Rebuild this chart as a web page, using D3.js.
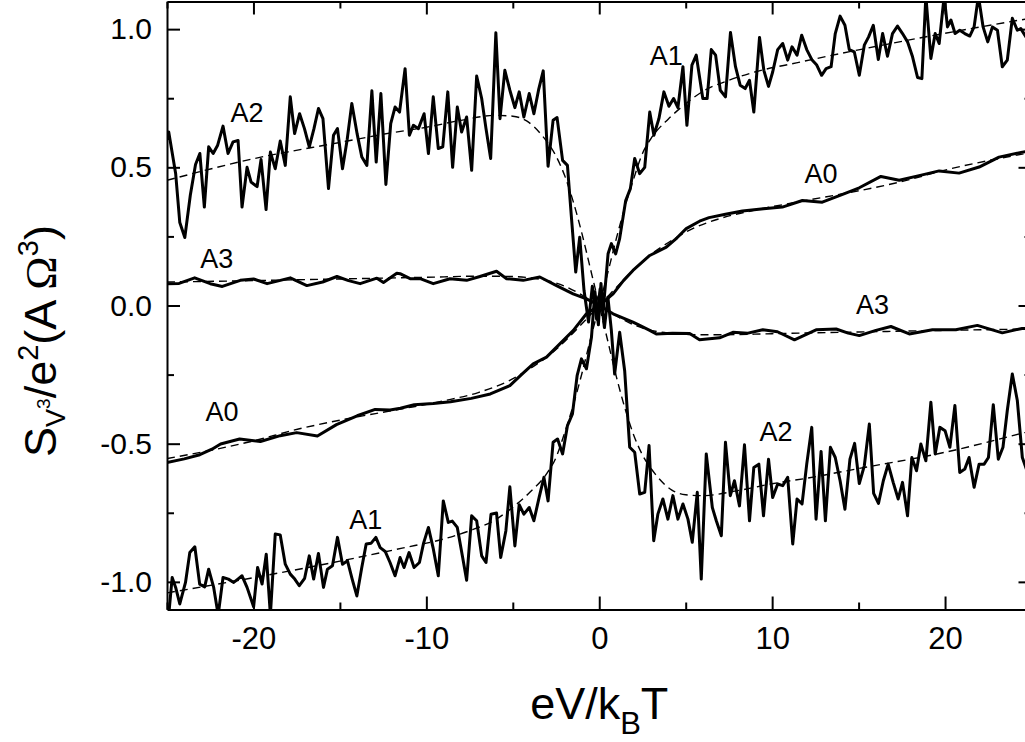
<!DOCTYPE html>
<html><head><meta charset="utf-8">
<script src="https://cdn.jsdelivr.net/npm/d3@7"></script>
<style>body{margin:0;background:#fff}svg{display:block}text{font-family:"Liberation Sans",Arial,sans-serif}</style>
</head><body>
<svg id="c" width="1025" height="742"></svg>
<script>
const xDomain=[-25,25], yDomain=[-1.1,1.1];
const xMajor=[-20,-10,0,10,20], xMinor=[-25,-15,-5,5,15,25];
const yMajor=[-1,-0.5,0,0.5,1], yMinor=[-0.75,-0.25,0.25,0.75];
const xTickLabels=["-20","-10","0","10","20"], yTickLabels=["-1.0","-0.5","0.0","0.5","1.0"];

const a2Data=[[-25,0.60],[-24.9,0.628],[-24.5,0.478],[-24.26,0.30],[-23.97,0.246],[-23.65,0.40],[-23.35,0.51],[-23.1,0.55],[-22.84,0.356],[-22.59,0.574],[-22.33,0.55],[-22.07,0.58],[-21.76,0.649],[-21.47,0.55],[-21.18,0.592],[-20.89,0.597],[-20.66,0.356],[-20.37,0.50],[-20.14,0.447],[-19.79,0.43],[-19.56,0.528],[-19.27,0.347],[-19.02,0.555],[-18.74,0.495],[-18.45,0.595],[-18.16,0.507],[-17.87,0.755],[-17.62,0.622],[-17.33,0.694],[-17.05,0.64],[-16.77,0.574],[-16.5,0.64],[-16.24,0.713],[-15.98,0.676],[-15.66,0.423],[-15.37,0.616],[-15.14,0.64],[-14.85,0.495],[-14.58,0.6],[-14.31,0.731],[-14.0,0.62],[-13.73,0.537],[-13.44,0.507],[-13.15,0.777],[-12.9,0.519],[-12.63,0.767],[-12.34,0.438],[-12.06,0.658],[-11.81,0.718],[-11.55,0.70],[-11.23,0.857],[-10.98,0.616],[-10.75,0.652],[-10.46,0.64],[-10.13,0.694],[-9.88,0.55],[-9.6,0.755],[-9.31,0.568],[-9.05,0.574],[-8.76,0.773],[-8.48,0.50],[-8.21,0.718],[-7.96,0.628],[-7.67,0.682],[-7.38,0.489],[-7.09,0.83],[-6.8,0.749],[-6.55,0.64],[-6.28,0.532],[-5.98,0.987],[-5.74,0.676],[-5.46,0.851],[-5.17,0.779],[-4.88,0.716],[-4.63,0.773],[-4.36,0.682],[-4.05,0.767],[-3.78,0.694],[-3.51,0.78],[-3.24,0.849],[-2.96,0.504],[-2.67,0.67],[-2.44,0.68],[-2.12,0.525],[-1.84,0.507],[-1.61,0.32],[-1.36,0.121],[-1.13,0.247],[-0.88,0.054],[-0.62,-0.06],[-0.4,0.07],[-0.15,-0.05],[0.05,0.06],[0.3,-0.08],[0.5,0.03],[0.7,-0.09],[0.89,-0.248],[1.18,-0.097],[1.47,-0.236],[1.76,-0.513],[2.05,-0.531],[2.34,-0.682],[2.63,-0.676],[2.88,-0.507],[3.15,-0.851],[3.39,-0.755],[3.68,-0.70],[3.97,-0.773],[4.26,-0.688],[4.55,-0.773],[4.84,-0.718],[5.13,-0.773],[5.38,-0.857],[5.67,-0.676],[5.9,-0.99],[6.19,-0.537],[6.54,-0.731],[6.77,-0.779],[7.06,-0.833],[7.3,-0.495],[7.58,-0.688],[7.82,-0.634],[8.11,-0.725],[8.4,-0.504],[8.69,-0.779],[8.94,-0.586],[9.23,-0.574],[9.5,-0.761],[9.79,-0.556],[10.03,-0.695],[10.32,-0.646],[10.61,-0.652],[10.9,-0.622],[11.19,-0.863],[11.44,-0.70],[11.73,-0.718],[12.0,-0.574],[12.29,-0.441],[12.54,-0.773],[12.83,-0.528],[13.08,-0.779],[13.37,-0.513],[13.65,-0.55],[13.93,-0.634],[14.21,-0.737],[14.5,-0.556],[14.77,-0.499],[15.04,-0.644],[15.33,-0.58],[15.62,-0.429],[15.87,-0.68],[16.15,-0.716],[16.43,-0.634],[16.71,-0.574],[17.0,-0.64],[17.29,-0.70],[17.54,-0.64],[17.83,-0.761],[18.08,-0.55],[18.35,-0.598],[18.6,-0.501],[18.89,-0.562],[19.18,-0.35],[19.43,-0.537],[19.7,-0.441],[20.0,-0.453],[20.28,-0.513],[20.57,-0.362],[20.85,-0.604],[21.14,-0.592],[21.39,-0.55],[21.68,-0.658],[21.97,-0.574],[22.26,-0.574],[22.51,-0.55],[22.79,-0.359],[23.08,-0.556],[23.35,-0.513],[23.6,-0.38],[23.89,-0.248],[24.18,-0.344],[24.47,-0.55],[24.75,-0.6]];

const a1Data=[[-25,-1.12],[-24.9,-1.12],[-24.7,-0.984],[-24.5,-1.02],[-24.26,-1.08],[-23.93,-1.002],[-23.68,-0.894],[-23.39,-0.873],[-23.11,-1.008],[-22.82,-1.018],[-22.59,-0.954],[-22.3,-1.02],[-22.04,-1.12],[-21.76,-0.984],[-21.45,-0.99],[-21.14,-1.002],[-20.9,-0.99],[-20.66,-0.978],[-20.37,-1.02],[-19.99,-1.09],[-19.76,-0.948],[-19.5,-1.008],[-19.26,-0.90],[-19.02,-1.12],[-18.74,-0.827],[-18.45,-0.83],[-18.16,-0.936],[-17.87,-0.972],[-17.61,-0.99],[-17.35,-1.014],[-17.04,-0.987],[-16.77,-0.906],[-16.52,-0.99],[-16.24,-0.897],[-15.95,-1.02],[-15.72,-0.954],[-15.43,-0.942],[-15.14,-0.839],[-14.85,-0.936],[-14.56,-0.924],[-14.29,-0.99],[-14.02,-1.051],[-13.74,-0.95],[-13.48,-0.863],[-13.19,-0.86],[-12.92,-0.839],[-12.67,-0.876],[-12.38,-0.89],[-12.1,-0.93],[-11.81,-0.978],[-11.52,-0.912],[-11.29,-0.948],[-11.0,-0.894],[-10.71,-0.948],[-10.4,-0.93],[-10.16,-0.86],[-9.88,-0.803],[-9.6,-0.88],[-9.31,-0.978],[-9.02,-0.707],[-8.73,-0.785],[-8.5,-0.78],[-8.21,-0.803],[-7.9,-0.912],[-7.67,-0.994],[-7.38,-0.761],[-7.09,-0.779],[-6.8,-0.906],[-6.55,-0.93],[-6.26,-0.755],[-5.94,-0.751],[-5.7,-0.912],[-5.4,-0.815],[-5.17,-0.656],[-4.88,-0.87],[-4.63,-0.721],[-4.36,-0.755],[-4.05,-0.731],[-3.78,-0.779],[-3.48,-0.695],[-3.2,-0.622],[-2.96,-0.707],[-2.67,-0.495],[-2.41,-0.483],[-2.12,-0.537],[-1.84,-0.435],[-1.55,-0.392],[-1.28,-0.254],[-1.03,-0.193],[-0.74,-0.229],[-0.45,-0.115],[-0.25,0.05],[-0.05,-0.07],[0.1,0.08],[0.22,-0.02],[0.35,0.07],[0.51,0.187],[0.7,0.224],[0.95,0.187],[1.18,0.242],[1.53,0.38],[1.8,0.423],[2.05,0.532],[2.34,0.477],[2.63,0.5],[2.92,0.7],[3.16,0.616],[3.45,0.676],[3.74,0.773],[4.03,0.721],[4.3,0.749],[4.55,0.716],[4.84,0.864],[5.07,0.652],[5.36,0.87],[5.61,0.906],[5.8,0.827],[5.99,0.749],[6.24,0.749],[6.48,0.926],[6.73,0.906],[7.0,0.779],[7.3,0.755],[7.59,0.988],[7.88,0.864],[8.15,0.797],[8.44,0.785],[8.69,0.815],[8.94,0.70],[9.27,0.97],[9.52,0.851],[9.79,0.793],[10.03,0.845],[10.32,0.926],[10.61,0.948],[10.9,0.888],[11.15,0.936],[11.44,0.906],[11.71,0.978],[12.0,0.926],[12.31,0.888],[12.58,0.87],[12.86,0.833],[13.12,0.857],[13.41,0.864],[13.65,0.984],[13.93,1.047],[14.21,1.014],[14.46,0.926],[14.75,0.918],[15.04,0.833],[15.33,0.942],[15.58,0.972],[15.85,1.014],[16.14,0.89],[16.39,0.984],[16.67,0.902],[16.96,0.984],[17.25,1.011],[17.54,0.984],[17.83,0.954],[18.12,0.90],[18.41,0.825],[18.66,0.821],[18.89,1.12],[19.18,0.894],[19.43,0.984],[19.66,0.948],[19.95,1.12],[20.14,1.008],[20.34,1.033],[20.58,0.984],[20.85,0.996],[21.14,0.984],[21.43,0.975],[21.68,1.008],[21.93,1.12],[22.2,1.008],[22.47,0.954],[22.74,1.008],[23.03,0.996],[23.31,0.864],[23.6,0.888],[23.89,1.039],[24.18,0.996],[24.38,1.002],[24.7,0.97],[25,0.98]];

const a0Data=[[-25,-0.568],[-24,-0.555],[-23.1,-0.54],[-22.4,-0.52],[-21.9,-0.501],[-20.8,-0.483],[-19.6,-0.492],[-18.45,-0.471],[-17.5,-0.46],[-16.3,-0.472],[-15.2,-0.431],[-14.0,-0.399],[-12.96,-0.376],[-12.1,-0.378],[-11.5,-0.372],[-10.7,-0.359],[-9.6,-0.355],[-8.6,-0.348],[-7.4,-0.336],[-6.3,-0.32],[-5.17,-0.29],[-4.5,-0.25],[-3.82,-0.211],[-3.05,-0.187],[-2.28,-0.139],[-1.51,-0.091],[-0.74,-0.03],[0,0.0],[0.8,0.042],[1.4,0.09],[1.95,0.127],[2.92,0.181],[3.88,0.211],[4.5,0.245],[5.03,0.278],[5.8,0.305],[6.35,0.318],[7.3,0.33],[8.28,0.342],[9.5,0.35],[10.59,0.356],[11.75,0.38],[12.9,0.374],[14.0,0.40],[15.04,0.426],[16.29,0.467],[17.35,0.453],[18.5,0.47],[19.66,0.487],[20.81,0.479],[21.97,0.501],[23.12,0.537],[24.47,0.555],[25,0.56]];

const a3Data=[[-25,0.079],[-24.3,0.08],[-23.4,0.10],[-22.5,0.079],[-21.8,0.069],[-20.76,0.091],[-19.99,0.096],[-19.21,0.079],[-18.5,0.09],[-17.87,0.10],[-16.91,0.072],[-16.0,0.085],[-15.17,0.105],[-14.5,0.09],[-13.83,0.079],[-12.86,0.099],[-12.48,0.083],[-11.71,0.117],[-11.52,0.115],[-10.94,0.097],[-10.36,0.097],[-9.6,0.079],[-8.63,0.097],[-7.67,0.091],[-6.9,0.105],[-5.94,0.124],[-5.36,0.097],[-4.4,0.091],[-3.44,0.103],[-2.47,0.072],[-1.51,0.042],[-0.74,0.024],[0,0.0],[0.8,-0.03],[1.95,-0.06],[2.34,-0.072],[2.92,-0.09],[3.3,-0.103],[4.24,-0.10],[5.23,-0.101],[5.8,-0.124],[6.96,-0.117],[7.73,-0.097],[8.6,-0.1],[9.46,-0.088],[10.31,-0.095],[11.29,-0.124],[12.54,-0.088],[13.7,-0.085],[14.4,-0.1],[15.04,-0.109],[16.0,-0.09],[16.87,-0.076],[17.93,-0.103],[19.27,-0.088],[20.62,-0.088],[21.87,-0.072],[23.31,-0.099],[24.45,-0.083],[25,-0.085]];

const a0Fit=[[-25,-0.554],[-20,-0.49],[-17.4,-0.447],[-15,-0.415],[-11.5,-0.375],[-9,-0.345],[-7,-0.315],[-5.2,-0.272],[-4,-0.228],[-3,-0.185],[-2,-0.13],[-1,-0.066],[0,0],[1,0.066],[2,0.13],[3,0.185],[4,0.228],[5.2,0.272],[7,0.315],[9,0.345],[11.5,0.375],[15,0.415],[17.4,0.447],[20,0.49],[25,0.554]];
const a1Fit=[[-25,-1.04],[-20,-0.985],[-15,-0.925],[-11.4,-0.878],[-9,-0.845],[-7.5,-0.815],[-6,-0.775],[-5,-0.73],[-4,-0.675],[-3,-0.605],[-2.5,-0.55],[-2,-0.46],[-1.5,-0.36],[-1,-0.245],[-0.5,-0.12],[0,0],[0.5,0.12],[1,0.245],[1.5,0.36],[2,0.46],[2.5,0.55],[3,0.605],[4,0.675],[5,0.73],[6,0.775],[7.5,0.815],[9,0.845],[11.4,0.878],[15,0.925],[20,0.985],[25,1.04]];
const a2Fit=[[-25,0.453],[-20,0.531],[-15,0.59],[-12,0.625],[-10,0.645],[-8,0.67],[-6,0.688],[-5,0.685],[-4.2,0.668],[-3.24,0.61],[-2.47,0.537],[-2,0.47],[-1.5,0.375],[-1,0.26],[-0.5,0.13],[0,0],[0.5,-0.13],[1,-0.26],[1.5,-0.375],[2,-0.47],[2.47,-0.537],[3.24,-0.61],[4.2,-0.668],[5,-0.685],[6,-0.688],[8,-0.67],[10,-0.645],[12,-0.625],[15,-0.59],[20,-0.531],[25,-0.453]];
const a3Fit=[[-25,0.085],[-20,0.09],[-15,0.096],[-10,0.102],[-7,0.106],[-5,0.105],[-4,0.1],[-3,0.09],[-2,0.07],[-1,0.038],[0,0],[1,-0.038],[2,-0.07],[3,-0.09],[4,-0.1],[5,-0.105],[7,-0.106],[10,-0.102],[15,-0.096],[20,-0.09],[25,-0.085]];

const seriesLabels=[["A2",-21.33,0.664],["A3",-23.07,0.134],["A0",-22.78,-0.417],["A1",-14.46,-0.807],["A1",2.92,0.87],["A0",11.87,0.442],["A3",14.85,-0.029],["A2",9.27,-0.489]];

const svg=d3.select("#c");
const x=d3.scaleLinear().domain(xDomain).range([167,1031.5]);
const y=d3.scaleLinear().domain(yDomain).range([609.5,1.5]);

svg.append("defs").append("clipPath").attr("id","clip").append("rect")
  .attr("x",x(-25)).attr("y",y(1.1)).attr("width",x(25)-x(-25)).attr("height",y(-1.1)-y(1.1));

const plot=svg.append("g").attr("clip-path","url(#clip)");
const lineData=d3.line().x(d=>x(d[0])).y(d=>y(d[1]));
const lineFit=d3.line().x(d=>x(d[0])).y(d=>y(d[1])).curve(d3.curveMonotoneX);

[a0Fit,a1Fit,a2Fit,a3Fit].forEach(f=>{
  plot.append("path").attr("d",lineFit(f)).attr("fill","none").attr("stroke","#000")
    .attr("stroke-width",1.4).attr("stroke-dasharray","8,5");
});
[a0Data,a1Data,a2Data,a3Data].forEach(s=>{
  plot.append("path").attr("d",lineData(s)).attr("fill","none").attr("stroke","#000")
    .attr("stroke-width",3).attr("stroke-linejoin","round");
});

function styleAxis(g){g.selectAll("path,line").attr("stroke","#000").attr("stroke-width",2);}
const fmtX=d=>xTickLabels[xMajor.indexOf(d)], fmtY=d=>yTickLabels[yMajor.indexOf(d)];
// bottom
svg.append("g").attr("transform",`translate(0,${y(-1.1)})`)
  .call(d3.axisBottom(x).tickValues(xMajor).tickSize(-13).tickSizeOuter(0).tickPadding(17).tickFormat(fmtX))
  .call(styleAxis).call(g=>g.selectAll("text").attr("font-size",31).attr("font-family","Liberation Sans, Arial"));
svg.append("g").attr("transform",`translate(0,${y(-1.1)})`)
  .call(d3.axisBottom(x).tickValues(xMinor).tickSize(-7).tickSizeOuter(0).tickFormat(""))
  .call(styleAxis).call(g=>g.select(".domain").remove());
// top
svg.append("g").attr("transform",`translate(0,${y(1.1)})`)
  .call(d3.axisTop(x).tickValues(xMajor).tickSize(-13).tickSizeOuter(0).tickFormat("")).call(styleAxis);
svg.append("g").attr("transform",`translate(0,${y(1.1)})`)
  .call(d3.axisTop(x).tickValues(xMinor).tickSize(-7).tickSizeOuter(0).tickFormat(""))
  .call(styleAxis).call(g=>g.select(".domain").remove());
// left
svg.append("g").attr("transform",`translate(${x(-25)},0)`)
  .call(d3.axisLeft(y).tickValues(yMajor).tickSize(-13).tickSizeOuter(0).tickPadding(15).tickFormat(fmtY))
  .call(styleAxis).call(g=>g.selectAll("text").attr("font-size",30).attr("font-family","Liberation Sans, Arial"));
svg.append("g").attr("transform",`translate(${x(-25)},0)`)
  .call(d3.axisLeft(y).tickValues(yMinor).tickSize(-7).tickSizeOuter(0).tickFormat(""))
  .call(styleAxis).call(g=>g.select(".domain").remove());
// right
svg.append("g").attr("transform",`translate(${x(25)},0)`)
  .call(d3.axisRight(y).tickValues(yMajor).tickSize(-13).tickSizeOuter(0).tickFormat("")).call(styleAxis);
svg.append("g").attr("transform",`translate(${x(25)},0)`)
  .call(d3.axisRight(y).tickValues(yMinor).tickSize(-7).tickSizeOuter(0).tickFormat(""))
  .call(styleAxis).call(g=>g.select(".domain").remove());

// series labels
svg.append("g").selectAll("text").data(seriesLabels).join("text")
  .attr("x",d=>x(d[1])).attr("y",d=>y(d[2])).attr("font-size",27).text(d=>d[0]);

// x title
const xt=svg.append("text").attr("x",x(0)).attr("y",719).attr("text-anchor","middle").attr("font-size",45);
xt.append("tspan").text("eV/k");
xt.append("tspan").attr("font-size",31).attr("dy",15).text("B");
xt.append("tspan").attr("dy",-15).text("T");

// y title
const yt=svg.append("text").attr("transform","translate(56,341) rotate(-90)").attr("text-anchor","middle").attr("font-size",45);
yt.append("tspan").text("S");
yt.append("tspan").attr("font-size",27).attr("dy",9).text("V");
yt.append("tspan").attr("font-size",19).attr("dy",-15).text("3");
yt.append("tspan").attr("dy",6).text("/e");
yt.append("tspan").attr("font-size",29).attr("dy",-18).text("2");
yt.append("tspan").attr("dy",18).text("(A ");
yt.append("tspan").attr("font-family","Liberation Serif, serif").text("Ω");
yt.append("tspan").attr("font-size",29).attr("dy",-18).text("3");
yt.append("tspan").attr("dy",18).text(")");
</script>
</body></html>
